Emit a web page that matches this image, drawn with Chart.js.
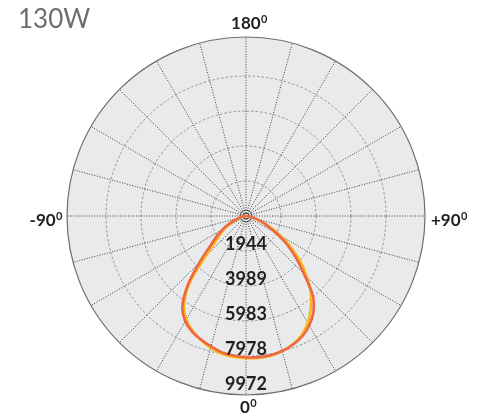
<!DOCTYPE html>
<html>
<head>
<meta charset="utf-8">
<script src="https://cdn.jsdelivr.net/npm/chart.js@4/dist/chart.umd.min.js"></script>
<style>
html, body { margin: 0; padding: 0; background: #fff; }
#wrap { width: 484px; height: 419px; }
</style>
</head>
<body>
<div id="wrap"><canvas id="polarChart" width="484" height="419"></canvas></div>
<script>
// angle of each spoke, going clockwise from the bottom (0 deg)
const angleLabels = [0, -5, -10, -15, -20, -25, -30, -35, -40, -45, -50, -55, -60, -65, -70, -75, -80, -85,
    -90, -95, -100, -105, -110, -115, -120, -125, -130, -135, -140, -145, -150, -155, -160, -165, -170, -175,
    180, 175, 170, 165, 160, 155, 150, 145, 140, 135, 130, 125, 120, 115, 110, 105, 100, 95,
    90, 85, 80, 75, 70, 65, 60, 55, 50, 45, 40, 35, 30, 25, 20, 15, 10, 5];

// candela values, red curve (C0-C180) and yellow curve (C90-C270)
const redValues = [8050, 7977, 7892, 7692, 7493, 7265, 6923, 6325, 5185, 3760, 2678, 2051, 1538, 1083, 684, 399, 200, 85,
    0, 0, 0, 0, 0, 0, 0, 0, 0, 0, 0, 0, 0, 0, 0, 0, 0, 0,
    0, 0, 0, 0, 0, 0, 0, 0, 0, 0, 0, 0, 0, 0, 0, 0, 0, 0,
    0, 114, 285, 570, 912, 1368, 2051, 2877, 3732, 4672, 5926, 6695, 7208, 7578, 7806, 7966, 8051, 8074];
const yellowValues = [8105, 8063, 7977, 7778, 7521, 7208, 6809, 6154, 5014, 3305, 2279, 1766, 1368, 969, 627, 342, 171, 57,
    0, 0, 0, 0, 0, 0, 0, 0, 0, 0, 0, 0, 0, 0, 0, 0, 0, 0,
    0, 0, 0, 0, 0, 0, 0, 0, 0, 0, 0, 0, 0, 0, 0, 0, 0, 0,
    0, 114, 285, 570, 969, 1538, 2279, 3134, 4046, 4900, 5755, 6439, 7037, 7493, 7778, 7977, 8091, 8120];

// rings of the grid and the labels printed on them
const ringValues = [0, 170, 340, 1994.4, 3988.8, 5983.2, 7977.6, 10200];
const ringLabelValues = [1994.4, 3988.8, 5983.2, 7977.6, 9972];
const ringLabels = ['1944', '3989', '5983', '7978', '9972'];
const scaleMax = 10200;

function drawDegree(ctx, text, x, y, align) {
    ctx.font = 'bold 17px Lato';
    const mainW = ctx.measureText(text).width;
    ctx.font = 'bold 11px Lato';
    const supW = ctx.measureText('0').width;
    let start = x;
    if (align === 'center') start = x - (mainW + supW) / 2;
    if (align === 'right') start = x - mainW - supW;
    ctx.textAlign = 'left';
    ctx.textBaseline = 'alphabetic';
    ctx.font = 'bold 17px Lato';
    ctx.fillText(text, start, y);
    ctx.font = 'bold 11px Lato';
    ctx.fillText('0', start + mainW + 0.5, y - 6);
}

const labelPlugin = {
    id: 'polarLabels',
    afterDatasetsDraw(chart) {
        const r = chart.scales.r;
        const ctx = chart.ctx;
        const R = r.drawingArea;
        ctx.save();

        // ring values down the 0 deg spoke
        ctx.fillStyle = '#231f20';
        ctx.font = 'bold 18px Lato';
        ctx.textAlign = 'center';
        ctx.textBaseline = 'middle';
        ringLabelValues.forEach((v, i) => {
            const d = r.getDistanceFromCenterForValue(v);
            ctx.fillText(ringLabels[i], r.xCenter, r.yCenter + d - 7);
        });

        // angle labels
        drawDegree(ctx, '180', r.xCenter + 3, r.yCenter - R - 8, 'center');
        drawDegree(ctx, '0', r.xCenter + 2, r.yCenter + R + 18, 'center');
        drawDegree(ctx, '-90', r.xCenter - R - 5, r.yCenter + 10, 'right');
        drawDegree(ctx, '+90', r.xCenter + R + 6, r.yCenter + 10, 'left');

        // title
        ctx.fillStyle = '#6d6e71';
        ctx.font = '26px Lato';
        ctx.textAlign = 'left';
        ctx.textBaseline = 'alphabetic';
        ctx.fillText('130W', 18, 28);
        ctx.restore();
    }
};

const chartCtx = document.getElementById('polarChart').getContext('2d');
new Chart(chartCtx, {
    type: 'radar',
    data: {
        labels: angleLabels,
        datasets: [{
            label: 'C0-C180',
            data: redValues,
            borderColor: '#ef6645',
            borderWidth: 2.6,
            pointRadius: 0,
            fill: false,
            tension: 0.35
        }, {
            label: 'C90-C270',
            data: yellowValues,
            borderColor: '#fdb813',
            borderWidth: 2.6,
            pointRadius: 0,
            fill: false,
            tension: 0.35
        }]
    },
    options: {
        responsive: false,
        animation: false,
        devicePixelRatio: 1,
        layout: { padding: { left: 67, right: 58, top: 37, bottom: 23 } },
        plugins: {
            legend: { display: false },
            tooltip: { enabled: false }
        },
        scales: {
            r: {
                min: 0,
                max: scaleMax,
                startAngle: 180,
                backgroundColor: '#e9eaec',
                afterBuildTicks: function(scale) {
                    scale.ticks = ringValues.map(v => ({ value: v }));
                },
                ticks: { display: false },
                pointLabels: { display: false },
                grid: {
                    circular: true,
                    color: function(c) {
                        if (c.index === ringValues.length - 1) return '#6d6e71';
                        if (c.index < 3) return '#555';
                        return '#8a8b8e';
                    },
                    lineWidth: function(c) {
                        return c.index === ringValues.length - 1 ? 1.2 : 0.9;
                    }
                },
                border: {
                    dash: function(c) {
                        return (c.index === ringValues.length - 1 || c.index < 3) ? [] : [2.5, 2];
                    }
                },
                angleLines: {
                    color: '#2b2b2b',
                    lineWidth: function(c) {
                        return c.index % 3 === 0 ? 0.9 : 0;
                    },
                    borderDash: [1, 1.6]
                }
            }
        }
    },
    plugins: [labelPlugin]
});
</script>
</body>
</html>
